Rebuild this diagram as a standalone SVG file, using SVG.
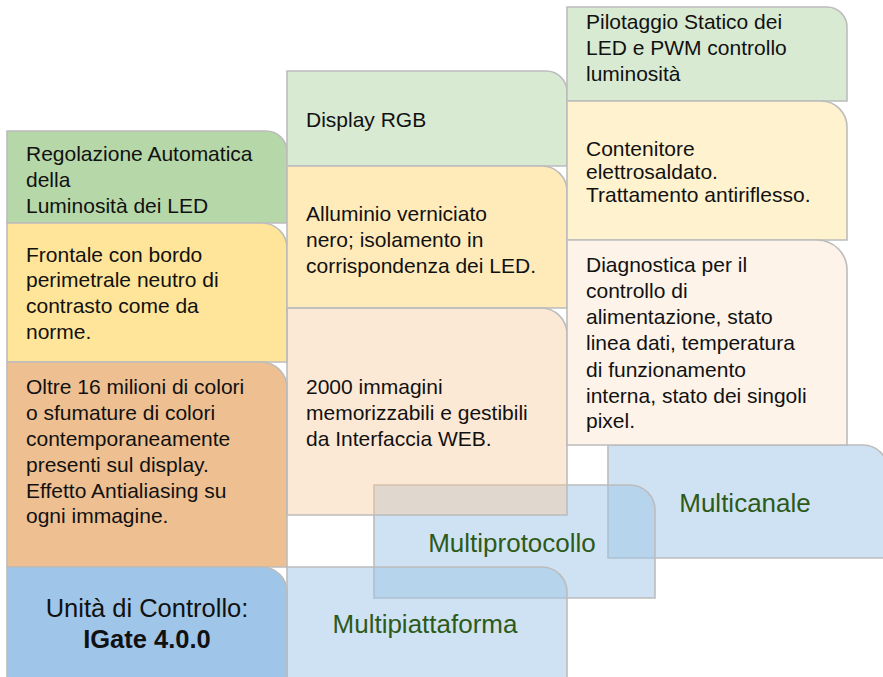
<svg xmlns="http://www.w3.org/2000/svg" width="883" height="677" viewBox="0 0 883 677">
<style>
  .box { stroke: #bcbcbc; stroke-width: 1.6; }
  .t { font-family: "Liberation Sans", Arial, sans-serif; font-size: 21px; fill: #111; }
  .big { font-family: "Liberation Sans", Arial, sans-serif; font-size: 25.5px; fill: #111; text-anchor: middle; }
  .multi { font-family: "Liberation Sans", Arial, sans-serif; font-size: 26px; fill: #2d5a18; text-anchor: middle; }
  .blue { fill: #9fc5e8; fill-opacity: 0.5; }
</style>
<rect width="883" height="677" fill="#ffffff"/>

<!-- translucent blue boxes -->
<g id="multicanale">
  <path class="box blue" d="M608,445 H863 A25,25 0 0 1 888,470 V558 H608 Z"/>
  <text class="multi" x="745" y="512">Multicanale</text>
</g>
<g id="multiprotocollo">
  <path class="box blue" d="M374,485 H630 A25,25 0 0 1 655,510 V598 H374 Z"/>
  <text class="multi" x="512" y="552">Multiprotocollo</text>
</g>
<g id="multipiattaforma">
  <path class="box blue" d="M287,567 H542 A25,25 0 0 1 567,592 V700 H287 Z"/>
  <text class="multi" x="425" y="633">Multipiattaforma</text>
</g>

<!-- column 1 -->
<g id="regolazione">
  <path class="box" fill="#b6d7a8" d="M7,131 H266 A21,21 0 0 1 287,152 V223 H7 Z"/>
  <text class="t" x="26" y="161">Regolazione Automatica</text>
  <text class="t" x="26" y="187">della</text>
  <text class="t" x="26" y="213">Luminosità dei LED</text>
</g>
<g id="frontale">
  <path class="box" fill="#ffe599" d="M7,223 H262 A25,25 0 0 1 287,248 V362 H7 Z"/>
  <text class="t" x="26" y="262">Frontale con bordo</text>
  <text class="t" x="26" y="287">perimetrale neutro di</text>
  <text class="t" x="26" y="313">contrasto come da</text>
  <text class="t" x="26" y="339">norme.</text>
</g>
<g id="colori">
  <path class="box" fill="#eec091" d="M7,362 H261 A26,26 0 0 1 287,388 V567 H7 Z"/>
  <text class="t" x="26" y="394">Oltre 16 milioni di colori</text>
  <text class="t" x="26" y="420">o sfumature di colori</text>
  <text class="t" x="26" y="446">contemporaneamente</text>
  <text class="t" x="26" y="472">presenti sul display.</text>
  <text class="t" x="26" y="498">Effetto Antialiasing su</text>
  <text class="t" x="26" y="523">ogni immagine.</text>
</g>
<g id="unita">
  <path class="box" fill="#9fc5e8" d="M7,567 H262 A25,25 0 0 1 287,592 V700 H7 Z"/>
  <text class="big" x="147" y="617">Unità di Controllo:</text>
  <text class="big" x="147" y="648" font-weight="bold">IGate 4.0.0</text>
</g>

<!-- column 2 -->
<g id="display">
  <path class="box" fill="#d9ead3" d="M287,71 H546 A21,21 0 0 1 567,92 V166 H287 Z"/>
  <text class="t" x="306" y="127">Display RGB</text>
</g>
<g id="alluminio">
  <path class="box" fill="#ffebba" d="M287,166 H542 A25,25 0 0 1 567,191 V308 H287 Z"/>
  <text class="t" x="306" y="221">Alluminio verniciato</text>
  <text class="t" x="306" y="247">nero; isolamento in</text>
  <text class="t" x="306" y="273">corrispondenza dei LED.</text>
</g>
<g id="immagini">
  <path class="box" fill="#f9cb9c" fill-opacity="0.42" d="M287,308 H541 A26,26 0 0 1 567,334 V515 H287 Z"/>
  <text class="t" x="306" y="394">2000 immagini</text>
  <text class="t" x="306" y="420">memorizzabili e gestibili</text>
  <text class="t" x="306" y="446">da Interfaccia WEB.</text>
</g>

<!-- column 3 -->
<g id="pilotaggio">
  <path class="box" fill="#d9ead3" d="M567,7 H827 A20,20 0 0 1 847,27 V101 H567 Z"/>
  <text class="t" x="586" y="29">Pilotaggio Statico dei</text>
  <text class="t" x="586" y="55">LED e PWM controllo</text>
  <text class="t" x="586" y="81">luminosità</text>
</g>
<g id="contenitore">
  <path class="box" fill="#fff2cf" d="M567,101 H821 A26,26 0 0 1 847,127 V240 H567 Z"/>
  <text class="t" x="586" y="156">Contenitore</text>
  <text class="t" x="586" y="179">elettrosaldato.</text>
  <text class="t" x="586" y="202">Trattamento antiriflesso.</text>
</g>
<g id="diagnostica">
  <path class="box" fill="#fdf3e9" d="M567,240 H817 A30,30 0 0 1 847,270 V445 H567 Z"/>
  <text class="t" x="586" y="272">Diagnostica per il</text>
  <text class="t" x="586" y="298">controllo di</text>
  <text class="t" x="586" y="324">alimentazione, stato</text>
  <text class="t" x="586" y="350">linea dati, temperatura</text>
  <text class="t" x="586" y="377">di funzionamento</text>
  <text class="t" x="586" y="403">interna, stato dei singoli</text>
  <text class="t" x="586" y="428">pixel.</text>
</g>
</svg>
